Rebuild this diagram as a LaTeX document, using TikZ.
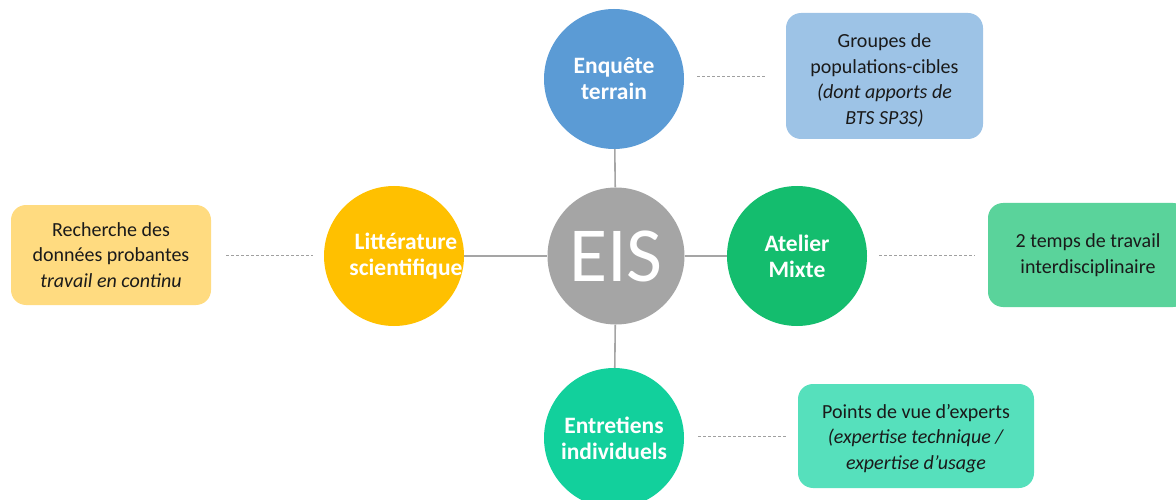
\documentclass[tikz,border=0pt]{standalone}
\usepackage{fontspec}
\setmainfont{Carlito}
\definecolor{eisgray}{HTML}{A5A5A5}
\definecolor{cblue}{HTML}{5B9BD5}
\definecolor{bblue}{HTML}{9DC3E6}
\definecolor{cyellow}{HTML}{FFC000}
\definecolor{byellow}{HTML}{FFDB80}
\definecolor{cgreen}{HTML}{14BD6E}
\definecolor{bgreen}{HTML}{5AD39B}
\definecolor{cteal}{HTML}{12D09C}
\definecolor{bteal}{HTML}{56E0BC}
\definecolor{txt}{HTML}{1A1A1A}
\definecolor{dashc}{HTML}{A0A0A0}
\tikzset{
  hub/.style={circle, fill=eisgray, minimum size=137pt, inner sep=0pt, text=white, font=\fontsize{78}{78}\selectfont},
  topic/.style={circle, minimum size=140pt, inner sep=0pt},
  topictext/.style={text=white, align=center, inner sep=0pt, font=\fontsize{23.5}{26}\selectfont\bfseries},
  infobox/.style={rectangle, rounded corners=15pt, inner sep=0pt, text=txt, align=center, font=\fontsize{20}{25.5}\selectfont},
  solidlink/.style={draw=eisgray, line width=1.6pt},
  dashlink/.style={draw=dashc, line width=0.9pt, dash pattern=on 3pt off 2pt},
}
\begin{document}
\begin{tikzpicture}[x=1pt,y=-1pt]
\useasboundingbox (0,0) rectangle (1176,500);
\node[hub] (eis) at (616,256) {EIS};
\node[topic, fill=cblue, label={[topictext]center:Enquête\\terrain}] (enq) at (614,79) {};
\node[topic, fill=cyellow, label={[topictext, xshift=12pt]center:Littérature\\scientifique}] (lit) at (394,256) {};
\node[topic, fill=cgreen, label={[topictext]center:Atelier\\Mixte}] (ate) at (797,256) {};
\node[topic, fill=cteal, label={[topictext]center:Entretiens\\individuels}] (ent) at (614,438) {};
\node[infobox, fill=bblue, minimum width=197pt, minimum height=126pt] (grp) at (884.5,76) {\rule{0pt}{23pt}Groupes de\\populations-cibles\\\textit{(dont apports de}\\\textit{BTS SP3S)}};
\node[infobox, fill=byellow, minimum width=200pt, minimum height=100pt] (rec) at (111,255) {Recherche des\\données probantes\\\textit{travail en continu}};
\node[infobox, fill=bgreen, minimum width=200pt, minimum height=104pt] (tps) at (1088,255) {2 temps de travail\\interdisciplinaire};
\node[infobox, fill=bteal, minimum width=236pt, minimum height=104pt] (pts) at (916,436) {\rule{0pt}{19pt}Points de vue d’experts\\\textit{(expertise technique /}\\\textit{expertise d’usage}};
\draw[solidlink] (enq) -- (eis);
\draw[solidlink] (lit) -- (eis);
\draw[solidlink] (ate) -- (eis);
\draw[solidlink] (ent) -- (eis);
\draw[dashlink, shorten <=13pt, shorten >=19pt] (enq.east |- grp.west) -- (grp.west);
\draw[dashlink, shorten <=15pt, shorten >=11pt] (rec.east) -- (lit.west |- rec.east);
\draw[dashlink, shorten <=12pt, shorten >=13pt] (ate.east |- tps.west) -- (tps.west);
\draw[dashlink, shorten <=14pt, shorten >=12pt] (ent.east |- pts.west) -- (pts.west);
\end{tikzpicture}
\end{document}
